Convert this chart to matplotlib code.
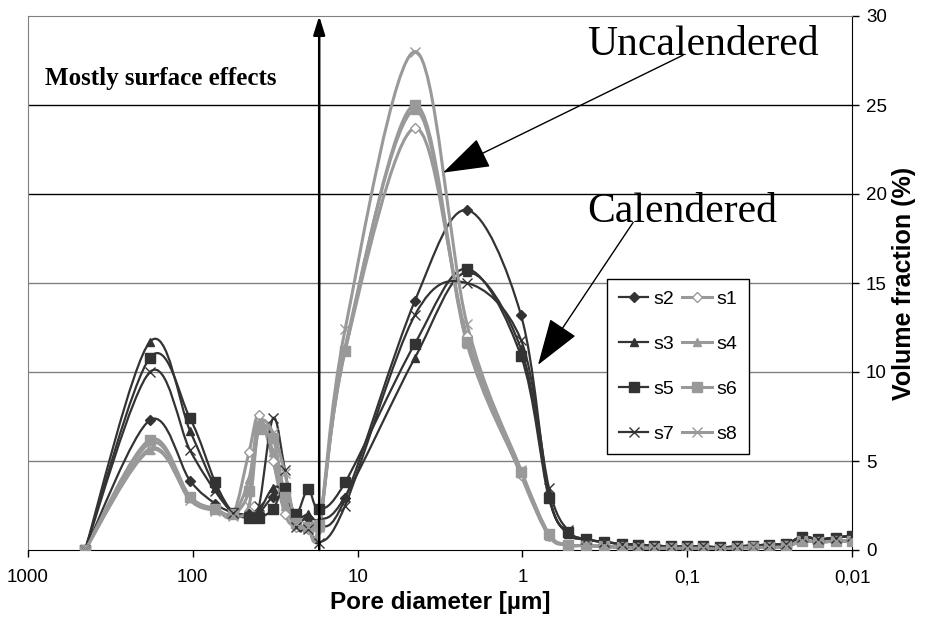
import numpy as np
import matplotlib
matplotlib.use('Agg')
import matplotlib.pyplot as plt
from matplotlib.path import Path
from matplotlib.patches import PathPatch
from matplotlib.lines import Line2D

plt.rcParams['font.family'] = ['Liberation Sans', 'DejaVu Sans']

# pore diameters (um), shared by all samples
diam = [451, 182, 104, 73, 57, 45.6, 39.6, 32.6, 27.6, 23.7, 20.0, 17.1, 11.9,
        4.49, 2.17, 1.02, 0.69, 0.53,
        0.41, 0.32, 0.25, 0.2, 0.16, 0.125, 0.1, 0.08, 0.063, 0.05, 0.04,
        0.032, 0.025, 0.02, 0.016, 0.0125, 0.01]

dark_tail = [0.6, 0.45, 0.35, 0.3, 0.25, 0.2, 0.2, 0.2, 0.15, 0.2, 0.25,
             0.3, 0.35, 0.75, 0.6, 0.7, 0.8]
light_tail = [0.25, 0.2, 0.15, 0.12, 0.1, 0.1, 0.1, 0.1, 0.05, 0.1, 0.15,
              0.15, 0.2, 0.5, 0.45, 0.5, 0.5]

# volume fraction (%) per sample
s2 = [0, 7.3, 3.9, 2.6, 2.1, 2.0, 2.1, 3.0, 3.2, 1.6, 1.8, 1.3, 2.9,
      14.0, 19.1, 13.2, 3.1, 1.0] + dark_tail
s3 = [0, 11.7, 6.7, 3.5, 2.1, 2.0, 2.2, 3.5, 3.2, 1.8, 2.0, 1.7, 3.0,
      10.8, 15.6, 11.3, 3.0, 0.9] + dark_tail
s5 = [0, 10.8, 7.4, 3.8, 2.1, 1.8, 1.8, 2.3, 3.5, 2.0, 3.4, 2.3, 3.8,
      11.6, 15.8, 10.9, 2.9, 1.0] + dark_tail
s7 = [0, 10.0, 5.6, 3.3, 2.1, 1.9, 2.5, 7.4, 4.5, 1.3, 1.2, 0.4, 2.5,
      13.2, 15.0, 11.8, 3.5, 1.1] + dark_tail
s1 = [0, 6.0, 3.0, 2.3, 2.0, 5.5, 7.6, 5.0, 2.0, 1.3, 1.2, 1.2, 11.2,
      23.7, 12.0, 4.2, 0.8, 0.3] + light_tail
s4 = [0, 5.6, 2.9, 2.3, 2.0, 4.0, 7.2, 5.5, 2.5, 1.4, 1.3, 1.3, 11.4,
      24.7, 11.6, 4.3, 0.8, 0.3] + light_tail
s6 = [0, 6.2, 3.0, 2.3, 2.0, 3.3, 6.8, 6.3, 3.0, 1.5, 1.3, 1.4, 11.2,
      25.0, 11.7, 4.4, 0.9, 0.3] + light_tail
s8 = [0, 5.7, 2.8, 2.2, 1.9, 2.5, 7.0, 6.6, 4.3, 1.5, 1.3, 1.3, 12.4,
      28.0, 12.7, 4.5, 0.9, 0.3] + light_tail

xtick_vals = [1000, 100, 10, 1, 0.1, 0.01]
xtick_labels = ['1000', '100', '10', '1', '0,1', '0,01']
yticks = [0, 5, 10, 15, 20, 25, 30]

DARK = '#333333'
LIGHT = '#999999'

# name, values, color, marker, marker size, face color
series = [
    ('s2', s2, DARK, 'D', 5, DARK),
    ('s1', s1, LIGHT, 'D', 5, 'white'),
    ('s3', s3, DARK, '^', 6, DARK),
    ('s4', s4, LIGHT, '^', 6, LIGHT),
    ('s5', s5, DARK, 's', 7, DARK),
    ('s6', s6, LIGHT, 's', 7, LIGHT),
    ('s7', s7, DARK, 'x', 7, DARK),
    ('s8', s8, LIGHT, 'x', 7, LIGHT),
]


def smooth_path(x, y):
    # Catmull-Rom through the points, built in log-x space as cubic Beziers
    pts = np.column_stack([np.log10(x), y])
    n = len(pts)
    verts = [pts[0]]
    codes = [Path.MOVETO]
    for i in range(n - 1):
        p0 = pts[i - 1] if i > 0 else pts[i]
        p1 = pts[i]
        p2 = pts[i + 1]
        p3 = pts[i + 2] if i + 2 < n else pts[i + 1]
        verts += [p1 + (p2 - p0) / 6, p2 - (p3 - p1) / 6, p2]
        codes += [Path.CURVE4] * 3
    verts = np.array(verts)
    verts[:, 0] = 10 ** verts[:, 0]
    return Path(verts, codes)


fig = plt.figure(figsize=(9.26, 6.21), dpi=100)
ax = fig.add_axes([28 / 926, 1 - 550 / 621, 824 / 926, 534 / 621])
ax.set_xscale('log')
ax.set_xlim(1000, 0.01)
ax.set_ylim(0, 30)

for lvl in yticks[1:-1]:
    ax.axhline(lvl, color='black' if lvl >= 20 else '#808080', lw=1, zorder=0)

handles = []
for name, vals, col, mk, ms, fc in series:
    lw = 1.6 if col == DARK else 2.2
    ax.add_patch(PathPatch(smooth_path(diam, vals), fill=False, edgecolor=col,
                           lw=lw, zorder=2))
    ax.plot(diam, vals, ls='none', marker=mk, ms=ms, mfc=fc, mec=col,
            mew=1.0, zorder=3)
    handles.append(Line2D([], [], color=col, lw=lw, marker=mk, ms=ms,
                          mfc=fc, mec=col, mew=1.0, label=name))

# legend columns: dark samples left, light samples right
order = [0, 2, 4, 6, 1, 3, 5, 7]
leg = ax.legend([handles[i] for i in order], [handles[i].get_label() for i in order],
                ncol=2, loc='upper left', bbox_to_anchor=(0.703, 0.508),
                fontsize=14, frameon=True, fancybox=False, framealpha=1,
                edgecolor='black', handlelength=1.5, handletextpad=0.25,
                columnspacing=0.45, labelspacing=1.4, borderpad=0.6,
                borderaxespad=0)
leg.get_frame().set_linewidth(1.0)

ax.set_xticks(xtick_vals, labels=xtick_labels)
ax.xaxis.set_minor_locator(matplotlib.ticker.NullLocator())
ax.set_yticks(yticks)
ax.yaxis.tick_right()
ax.yaxis.set_label_position('right')
ax.tick_params(axis='both', labelsize=13.5, direction='out', length=5,
               width=1, color='black')
ax.tick_params(axis='x', pad=9)
ax.tick_params(axis='y', pad=5)

ax.set_xlabel('Pore diameter [µm]', fontsize=17.5, fontweight='bold', labelpad=3)
ax.set_ylabel('Volume fraction (%)', fontsize=18, fontweight='bold', labelpad=4)

ax.spines['left'].set_color('#808080')
ax.spines['top'].set_color('#808080')
ax.spines['bottom'].set_color('black')
ax.spines['right'].set_color('black')

# boundary between surface roughness and pore network
ax.annotate('', xy=(17.1, 30), xytext=(17.1, 0),
            arrowprops=dict(arrowstyle='-|>,head_length=0.8,head_width=0.25',
                            color='black', lw=1.8, mutation_scale=14,
                            shrinkA=0, shrinkB=0), zorder=4)
ax.text(789, 26.1, 'Mostly surface effects', family='Liberation Serif',
        fontsize=18, fontweight='bold', ha='left', va='baseline')

ax.text(0.405, 27.8, 'Uncalendered', family='Liberation Serif', fontsize=30,
        ha='left', va='baseline')
ax.annotate('', xy=(3.03, 21.2), xytext=(0.106, 27.8),
            arrowprops=dict(arrowstyle='-|>,head_length=1.5,head_width=0.5',
                            color='black', lw=1, mutation_scale=20,
                            shrinkA=0, shrinkB=0), zorder=5)

ax.text(0.405, 18.4, 'Calendered', family='Liberation Serif', fontsize=30,
        ha='left', va='baseline')
ax.annotate('', xy=(0.804, 10.4), xytext=(0.213, 18.4),
            arrowprops=dict(arrowstyle='-|>,head_length=1.5,head_width=0.5',
                            color='black', lw=1, mutation_scale=20,
                            shrinkA=0, shrinkB=0), zorder=5)

fig.savefig('out.png', dpi=100)
